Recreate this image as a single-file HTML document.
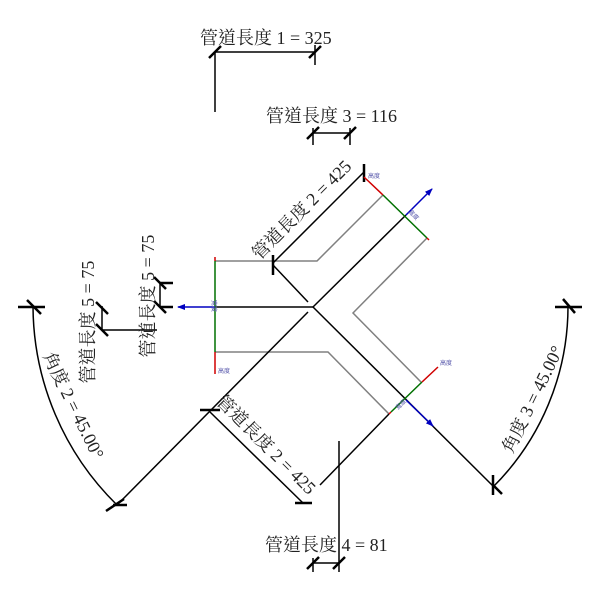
<!DOCTYPE html>
<html><head><meta charset="utf-8"><style>
html,body{margin:0;padding:0;background:#fff;}
svg{display:block;}
text{font-family:"Liberation Serif","Noto Serif CJK TC","Noto Sans CJK TC",serif;font-size:18px;fill:#222;}
.s{font-family:"Liberation Sans","Noto Sans CJK TC",sans-serif;font-size:6px;fill:#55a;}
</style></head><body>
<svg width="600" height="600" viewBox="0 0 600 600" xmlns="http://www.w3.org/2000/svg">
<defs>
<marker id="ab" markerWidth="8" markerHeight="6" refX="7" refY="3" orient="auto" markerUnits="userSpaceOnUse"><path d="M0,0 L8,3 L0,6z" fill="#0000c0"/></marker>
</defs>
<g fill="none" stroke="#808080" stroke-width="1.5">
<polyline points="383,195 317,261 215,261"/>
<polyline points="427,238 353,313 421,382"/>
<polyline points="215,352 328,352 389,414"/>
</g>
<g fill="none" stroke="#000" stroke-width="1.5">
<line x1="313" y1="307" x2="406" y2="215"/>
<line x1="215" y1="307" x2="313" y2="307"/>
<line x1="313" y1="307" x2="493" y2="486"/>
<line x1="308" y1="312" x2="117" y2="505"/>
<line x1="273" y1="265" x2="308" y2="302"/>
<line x1="273" y1="263" x2="364" y2="172"/>
<line x1="210" y1="412" x2="303" y2="503"/>
<line x1="320" y1="485" x2="389" y2="414"/>
<line x1="339" y1="441" x2="339" y2="572"/>
<line x1="313" y1="563" x2="339" y2="563"/>
<line x1="313" y1="558" x2="313" y2="572"/>
<line x1="215" y1="52" x2="315" y2="52"/>
<line x1="215" y1="52" x2="215" y2="112"/>
<line x1="315" y1="45" x2="315" y2="65"/>
<line x1="313" y1="133" x2="350" y2="133"/>
<line x1="313" y1="128" x2="313" y2="145"/>
<line x1="350" y1="128" x2="350" y2="145"/>
<line x1="102" y1="330" x2="157" y2="330"/>
<line x1="102" y1="306" x2="102" y2="330"/>
<line x1="160" y1="283" x2="160" y2="307"/>
<path d="M33,307 A280,280 0 0 0 117,505"/>
<path d="M568,307 A255,255 0 0 1 493,487"/>
</g>
<g stroke="#000" stroke-width="2.5">
<line x1="209" y1="58" x2="221" y2="46"/>
<line x1="309" y1="58" x2="321" y2="46"/>
<line x1="307" y1="139" x2="319" y2="127"/>
<line x1="344" y1="139" x2="356" y2="127"/>
<line x1="307" y1="569" x2="319" y2="557"/>
<line x1="333" y1="569" x2="345" y2="557"/>
<line x1="273" y1="255" x2="273" y2="275"/>
<line x1="364" y1="164" x2="364" y2="182"/>
<line x1="200" y1="410" x2="220" y2="410"/>
<line x1="295" y1="503" x2="312" y2="503"/>
<line x1="113" y1="505" x2="127" y2="505"/>
<line x1="106" y1="511" x2="124" y2="499"/>
<line x1="18" y1="307" x2="45" y2="307"/>
<line x1="27" y1="300" x2="41" y2="314"/>
<line x1="555" y1="307" x2="582" y2="307"/>
<line x1="563" y1="299" x2="575" y2="313"/>
<line x1="493" y1="475" x2="493" y2="495"/>
<line x1="493" y1="485" x2="502" y2="494"/>
<line x1="96" y1="302" x2="108" y2="314"/>
<line x1="96" y1="324" x2="108" y2="336"/>
<line x1="154" y1="277" x2="166" y2="289"/>
<line x1="154" y1="301" x2="166" y2="313"/>
<line x1="160" y1="283" x2="173" y2="283"/>
<line x1="160" y1="307" x2="173" y2="307"/>
</g>
<g stroke-width="1.5" fill="none">
<line x1="364" y1="177" x2="383" y2="195" stroke="#d00000"/>
<line x1="383" y1="195" x2="427" y2="238" stroke="#007000"/>
<line x1="427" y1="238" x2="429" y2="240" stroke="#d00000"/>
<line x1="215" y1="257" x2="215" y2="261" stroke="#d00000"/>
<line x1="215" y1="261" x2="215" y2="352" stroke="#007000"/>
<line x1="215" y1="352" x2="215" y2="374" stroke="#d00000"/>
<line x1="389" y1="414" x2="391" y2="412" stroke="#d00000"/>
<line x1="391" y1="412" x2="422" y2="382" stroke="#007000"/>
<line x1="422" y1="382" x2="438" y2="367" stroke="#d00000"/>
<line x1="406" y1="215" x2="432" y2="189" stroke="#0000c0" marker-end="url(#ab)"/>
<line x1="215" y1="307" x2="178" y2="307" stroke="#0000c0" marker-end="url(#ab)"/>
<line x1="406" y1="400" x2="433" y2="426" stroke="#0000c0" marker-end="url(#ab)"/>
</g>
<text class="s" x="368" y="178">高度</text>
<text class="s" x="218" y="373">高度</text>
<text class="s" x="440" y="365">高度</text>
<text class="s" transform="translate(408,212) rotate(45)">寬度</text>
<text class="s" transform="translate(212,300) rotate(90)">寬度</text>
<text class="s" transform="translate(398,410) rotate(-45)">寬度</text>
<text x="200" y="44">管道長度 1 = 325</text>
<text x="266" y="122">管道長度 3 = 116</text>
<text x="265" y="551">管道長度 4 = 81</text>
<text text-anchor="middle" transform="translate(306,214) rotate(-45)">管道長度 2 = 425</text>
<text text-anchor="middle" transform="translate(262,449) rotate(45)">管道長度 2 = 425</text>
<text text-anchor="middle" transform="translate(94,322) rotate(-90)">管道長度 5 = 75</text>
<text text-anchor="middle" transform="translate(154,296) rotate(-90)">管道長度 5 = 75</text>
<text text-anchor="middle" transform="translate(68,408) rotate(64)">角度 2 = 45.00°</text>
<text text-anchor="middle" transform="translate(538,402) rotate(-64)">角度 3 = 45.00°</text>
</svg>
</body></html>
